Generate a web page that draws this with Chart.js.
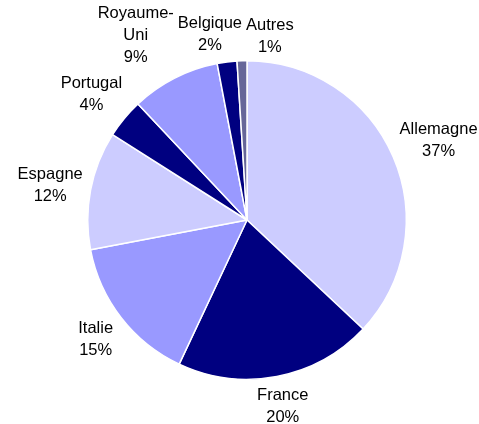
<!DOCTYPE html>
<html>
<head>
<meta charset="utf-8">
<script src="https://cdn.jsdelivr.net/npm/chart.js@4"></script>
<style>
  html, body { margin: 0; padding: 0; background: #fff; }
  #wrap { width: 479px; height: 424px; }
</style>
</head>
<body>
<div id="wrap"><canvas id="chart-pie"></canvas></div>
<script>
// Data
const pays = ['Allemagne', 'France', 'Italie', 'Espagne', 'Portugal', ['Royaume-', 'Uni'], 'Belgique', 'Autres'];
const parts = [37, 20, 15, 12, 4, 9, 2, 1];
const couleurs = ['#ccccff', '#000080', '#9999ff', '#ccccff', '#000080', '#9999ff', '#000080', '#666699'];

const FONT = '16.5px "Liberation Sans", Arial, sans-serif';
const LINE_H = 22;

// Labels outside the pie (radial), pushed apart when they overlap
const outsideLabels = {
  id: 'outsideLabels',
  afterDatasetsDraw(chart) {
    const ctx = chart.ctx;
    const meta = chart.getDatasetMeta(0);
    const total = parts.reduce((a, b) => a + b, 0);
    ctx.save();
    ctx.font = FONT;
    const boxes = meta.data.map((arc, i) => {
      const lines = [].concat(pays[i]).concat([Math.round(parts[i] / total * 100) + '%']);
      const w = Math.max(...lines.map(l => ctx.measureText(l).width));
      const h = lines.length * LINE_H;
      const mid = (arc.startAngle + arc.endAngle) / 2;
      const dx = Math.cos(mid), dy = Math.sin(mid);
      const d = arc.outerRadius + 5 + Math.abs(dx) * w / 2 + Math.abs(dy) * h / 2;
      // labels sit a little lower, except right below the pie
      const shift = 3 - 4 * Math.pow(Math.max(0, dy), 4);
      return { lines, w, h, x: arc.x + dx * d, y: arc.y + dy * d + shift };
    });
    // simple horizontal relaxation
    for (let it = 0; it < 30; it++) {
      for (let i = 0; i < boxes.length; i++) {
        for (let j = i + 1; j < boxes.length; j++) {
          const a = boxes[i], b = boxes[j];
          const ox = (a.w + b.w) / 2 + 4 - Math.abs(a.x - b.x);
          const oy = (a.h + b.h) / 2 - Math.abs(a.y - b.y);
          if (ox > 0 && oy > 0) {
            const s = a.x < b.x ? -1 : 1;
            a.x += s * ox / 2;
            b.x -= s * ox / 2;
          }
        }
      }
    }
    ctx.fillStyle = '#000';
    ctx.textAlign = 'center';
    ctx.textBaseline = 'middle';
    boxes.forEach(b => {
      b.lines.forEach((l, k) => {
        ctx.fillText(l, b.x, b.y - b.h / 2 + LINE_H * (k + 0.5));
      });
    });
    ctx.restore();
  }
};

!function(){
  const ctx = document.getElementById('chart-pie');

  new Chart(ctx, {
    type: 'pie',
    data: {
      labels: pays,
      datasets: [{
        data: parts,
        backgroundColor: couleurs,
        borderColor: '#ffffff',
        borderWidth: 1.5
      }]
    },
    options: {
      responsive: true,
      maintainAspectRatio: false,
      animation: false,
      layout: { padding: { top: 60, bottom: 44, left: 87, right: 72 } },
      plugins: {
        legend: { display: false },
        tooltip: { enabled: false }
      }
    },
    plugins: [outsideLabels]
  });
}();
</script>
</body>
</html>
